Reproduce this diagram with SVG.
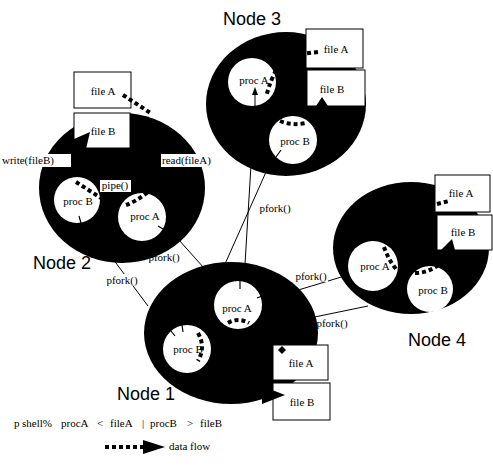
<svg xmlns="http://www.w3.org/2000/svg" width="493" height="468" viewBox="0 0 493 468">
<style>
.node{fill:#000}
.proc{fill:#fff}
.file{fill:#fff;stroke:#000;stroke-width:1}
.t{font-family:"Liberation Serif","Times New Roman",serif;font-size:11px;fill:#000;text-anchor:middle}
.tl{font-family:"Liberation Serif","Times New Roman",serif;font-size:11px;fill:#000}
.lbl{font-family:"Liberation Sans",Arial,sans-serif;font-size:18px;fill:#000;text-anchor:middle}
.conn{stroke:#000;stroke-width:1;fill:none}
.df{stroke:#000;stroke-width:4;stroke-dasharray:4 3;fill:none}
.tick{stroke:#000;stroke-width:1.2}
.bg{fill:#fff}
.ah{fill:#000}
</style>

<g id="connectors">
  <line class="conn" x1="170" y1="230" x2="204" y2="268"/>
  <line class="conn" x1="110" y1="255" x2="148" y2="306"/>
  <line class="conn" x1="251" y1="165" x2="245" y2="264"/>
  <line class="conn" x1="266" y1="172" x2="225" y2="264"/>
  <line class="conn" x1="295" y1="291" x2="348" y2="275"/>
  <line class="conn" x1="300" y1="320" x2="368" y2="306"/>
  <rect class="bg" x="147" y="251" width="34" height="12"/>
  <text class="t" x="164" y="261">pfork()</text>
  <rect class="bg" x="106" y="274" width="33" height="12"/>
  <text class="t" x="122" y="284">pfork()</text>
  <rect class="bg" x="259" y="202" width="33" height="12"/>
  <text class="t" x="275" y="212">pfork()</text>
  <rect class="bg" x="294" y="270" width="34" height="12"/>
  <text class="t" x="311" y="280">pfork()</text>
  <rect class="bg" x="315" y="317" width="34" height="12"/>
  <text class="t" x="332" y="327">pfork()</text>
</g>

<g id="node2">
  <ellipse class="node" cx="122" cy="188" rx="83" ry="75"/>
  <rect class="file" x="74" y="72" width="57" height="36"/>
  <text class="t" x="103" y="95">file A</text>
  <rect class="file" x="74" y="113" width="56" height="35"/>
  <text class="t" x="103" y="135">file B</text>
  <polygon class="ah" points="74,139 90,132 86,149 74,149"/>
  <circle class="proc" cx="77" cy="200" r="23"/>
  <text class="t" x="78" y="205">proc B</text>
  <circle class="proc" cx="142" cy="217" r="24"/>
  <text class="t" x="145" y="220">proc A</text>
  <path class="df" d="M123 95 L152 114"/>
  <path class="df" d="M126 205 Q137 201 148 192"/>
  <path class="df" d="M76 182 L101 198"/>
  <line class="tick" x1="79" y1="216" x2="81" y2="223"/>
  <line class="tick" x1="158" y1="226" x2="163" y2="229"/>
  <rect class="bg" x="0" y="154" width="71" height="13"/>
  <text class="tl" x="2" y="164">write(fileB)</text>
  <rect class="bg" x="161" y="154" width="52" height="13"/>
  <text class="tl" x="162" y="164">read(fileA)</text>
  <rect class="bg" x="100" y="180" width="31" height="12"/>
  <text class="t" x="115" y="189">pipe()</text>
  <text class="lbl" x="62" y="269">Node 2</text>
</g>

<g id="node3">
  <ellipse class="node" cx="286" cy="104" rx="80" ry="72"/>
  <rect class="file" x="306" y="29" width="57" height="39"/>
  <text class="t" x="336" y="53">file A</text>
  <rect class="file" x="307" y="70" width="58" height="36"/>
  <text class="t" x="332" y="93">file B</text>
  <polygon class="ah" points="316,106 322,97 328,106"/>
  <circle class="proc" cx="252" cy="82" r="24"/>
  <text class="t" x="254" y="84">proc A</text>
  <line class="conn" x1="255" y1="106" x2="255" y2="94"/>
  <polygon class="ah" points="252,95 255,87 258,95"/>
  <circle class="proc" cx="293" cy="140" r="24"/>
  <text class="t" x="295" y="145">proc B</text>
  <path class="df" d="M318 52 L292 55 Q275 62 266 97"/>
  <path class="df" d="M280 121 Q292 126 306 123"/>
  <line class="tick" x1="276" y1="157" x2="281" y2="150"/>
  <text class="lbl" x="252" y="25">Node 3</text>
</g>

<g id="node4">
  <ellipse class="node" cx="411" cy="248" rx="78" ry="66"/>
  <rect class="file" x="435" y="175" width="55" height="37"/>
  <text class="t" x="461" y="197">file A</text>
  <rect class="file" x="437" y="215" width="55" height="35"/>
  <text class="t" x="463" y="236">file B</text>
  <polygon class="ah" points="441,250 452,239 455,250"/>
  <circle class="proc" cx="373" cy="266" r="25"/>
  <text class="t" x="375" y="270">proc A</text>
  <circle class="proc" cx="430" cy="289" r="23"/>
  <text class="t" x="433" y="294">proc B</text>
  <path class="df" d="M437 204 L449 201"/>
  <path class="df" d="M384 247 Q388 259 396 269"/>
  <path class="df" d="M415 273 Q432 273 445 259"/>
  <text class="lbl" x="437" y="346">Node 4</text>
</g>

<g id="node1">
  <ellipse class="node" cx="231" cy="333" rx="87" ry="71"/>
  <circle class="proc" cx="238" cy="305" r="24"/>
  <text class="t" x="237" y="312">proc A</text>
  <path class="df" d="M228 323 Q238 317 249 323"/>
  <line class="tick" x1="240" y1="281" x2="240" y2="289"/>
  <line class="tick" x1="262" y1="296" x2="257" y2="298"/>
  <circle class="proc" cx="187" cy="349" r="24"/>
  <text class="t" x="188" y="353">proc B</text>
  <path class="df" d="M198 333 Q206 347 198 361"/>
  <line class="tick" x1="182" y1="325" x2="183" y2="332"/>
  <line class="tick" x1="171" y1="331" x2="175" y2="336"/>
  <rect class="file" x="273" y="345" width="55" height="35"/>
  <text class="t" x="301" y="367">file A</text>
  <polygon class="ah" points="282,346 286,350 282,354 278,350"/>
  <rect class="file" x="273" y="383" width="57" height="37"/>
  <text class="t" x="302" y="406">file B</text>
  <polygon class="ah" points="262,386 285,395 262,404"/>
  <text class="lbl" x="146" y="400">Node 1</text>
</g>

<g id="legend">
  <text class="tl" y="427"><tspan x="14">p</tspan><tspan x="22">shell%</tspan><tspan x="61">procA</tspan><tspan x="97">&lt;</tspan><tspan x="110">fileA</tspan><tspan x="142">|</tspan><tspan x="150">procB</tspan><tspan x="187">&gt;</tspan><tspan x="200">fileB</tspan></text>
  <path class="df" d="M105 447 L143 447"/>
  <polygon class="ah" points="143,440 165,447 143,454"/>
  <text class="tl" x="169" y="450">data flow</text>
</g>
</svg>
